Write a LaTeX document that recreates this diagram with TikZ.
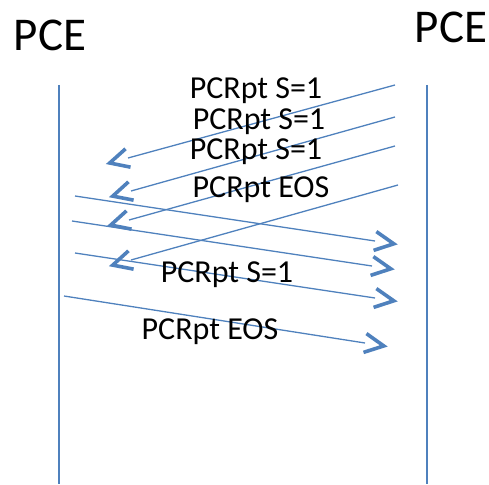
\documentclass[tikz,border=0pt]{standalone}
\usepackage{fontspec}
\setmainfont{Carlito}
\usetikzlibrary{decorations.markings,calc}
\definecolor{msgblue}{HTML}{4F81BD}
\tikzset{
  lifeline/.style={draw=msgblue,line width=1.8pt},
  chev/.style={draw=msgblue,line width=3.6pt,line cap=butt,line join=miter},
  msg/.style={draw=msgblue,line width=1.3pt,
    postaction={decorate,decoration={markings,
      mark=at position 1 with {\draw[chev] (0pt,9.5pt) -- (19pt,0pt) -- (0pt,-9.5pt);}}}},
  title/.style={font=\fontsize{47}{52}\selectfont,text=black,inner sep=0pt},
  lbl/.style={font=\fontsize{32}{36}\selectfont,text=black,inner sep=0pt}
}
\begin{document}
\begin{tikzpicture}[x=1pt,y=-1pt]
\useasboundingbox (0,0) rectangle (489,484);
\node[title] (pceL) at (50,35) {PCE};
\node[title] (pceR) at (451,27) {PCE};
\coordinate (lt) at (59,85); \coordinate (lb) at (59,484);
\coordinate (rt) at (427,85); \coordinate (rb) at (427,484);
\draw[lifeline] (lt) -- (lb);
\draw[lifeline] (rt) -- (rb);
% right to left
\coordinate (s1) at (395,85);  \coordinate (e1) at (128,158);
\coordinate (s2) at (395,117); \coordinate (e2) at (131,191);
\coordinate (s3) at (395,146); \coordinate (e3) at (129,220);
\coordinate (s4) at (398,185); \coordinate (e4) at (131,260);
% left to right
\coordinate (s5) at (75,196);  \coordinate (e5) at (375,241);
\coordinate (s6) at (72,221);  \coordinate (e6) at (372,266);
\coordinate (s7) at (75,253);  \coordinate (e7) at (375,298);
\coordinate (s8) at (64,296);  \coordinate (e8) at (365,343);
\foreach \i in {1,...,8} {\draw[msg] (s\i) -- (e\i);}
\node[lbl] (m1) at (256,91) {PCRpt S=1};
\node[lbl] (m2) at (259,122) {PCRpt S=1};
\node[lbl] (m3) at (256,152) {PCRpt S=1};
\node[lbl] (m4) at (261,190) {PCRpt EOS};
\node[lbl] (m5) at (227,275) {PCRpt S=1};
\node[lbl] (m6) at (210,332) {PCRpt EOS};
\end{tikzpicture}
\end{document}
